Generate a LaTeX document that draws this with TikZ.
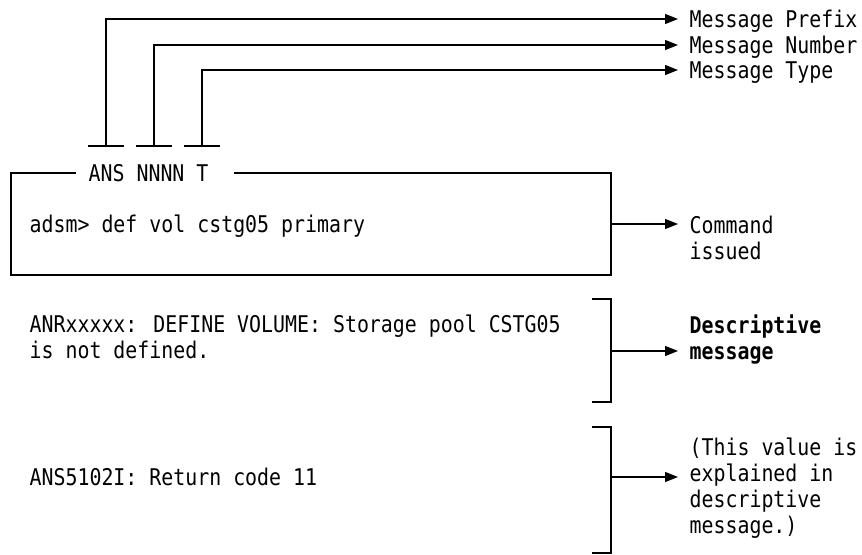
\documentclass[tikz,border=0pt]{standalone}
\usepackage{fontspec}
\setmainfont{DejaVu Sans Mono}[FakeStretch=0.865]
\usetikzlibrary{arrows.meta,positioning}

\tikzset{
	msg/.style={inner sep=0pt, align=left, font=\fontsize{11.5}{13}\selectfont},
	tag/.style={anchor=west, inner xsep=5.5pt, inner ysep=0pt, text height=8.5pt, text depth=0pt, font=\fontsize{11.5}{13}\selectfont},
	lbl/.style={anchor=north west, inner xsep=5.5pt, inner ysep=0pt, align=left, font=\fontsize{11.5}{13}\selectfont},
	arr/.style={-{Triangle[length=6.5pt,width=5pt]}},
}

\begin{document}
\begin{tikzpicture}[x=0.5pt, y=-0.5pt, line width=0.65pt]
	\useasboundingbox (0,0) rectangle (862,554);
	
	% labels on the right
	\node[tag] (prefix) at (678,19) {Message Prefix};
	\node[tag] (number) at (678,45) {Message Number};
	\node[tag] (type) at (678,70) {Message Type};
	\node[lbl] (cmd) at (678,215.5) {Command\\issued};
	\node[lbl, font=\fontsize{11.5}{13}\selectfont\bfseries] (desc) at (678,314.5) {Descriptive\\message};
	\node[lbl] (expl) at (678,437.5) {(This value is\\explained in\\descriptive\\message.)};
	
	% text on the left
	\node[tag, inner xsep=6pt] (title) at (76,173) {ANS NNNN T};
	\node[msg, anchor=base west] (adsm) at (29,232) {adsm> def vol cstg05 primary};
	\node[msg, anchor=north west] (anr) at (29,314.5) {ANRxxxxx: DEFINE VOLUME: Storage pool CSTG05\\is not defined.};
	\node[msg, anchor=base west] (ans) at (29,485) {ANS5102I: Return code 11};
	
	% the three pointers
	\coordinate (pA) at (106,146);
	\coordinate (pN) at (154,146);
	\coordinate (pT) at (202,146);
	\draw ([xshift=-9pt]pA) -- ([xshift=9pt]pA);
	\draw ([xshift=-9pt]pN) -- ([xshift=9pt]pN);
	\draw ([xshift=-9pt]pT) -- ([xshift=9pt]pT);
	\draw[arr] (pA) |- (prefix.west);
	\draw[arr] (pN) |- (number.west);
	\draw[arr] (pT) |- (type.west);
	
	% command box
	\coordinate (boxnw) at (11,173);
	\coordinate (boxse) at (611,275);
	\draw (title.west) -- (boxnw) -- (boxnw |- boxse) -- (boxse) -- (boxse |- boxnw) -- ([xshift=6.5pt]title.east);
	\coordinate (ctip) at ([yshift=-4.25pt]cmd.north west);
	\draw[arr] (boxse |- ctip) -- (ctip);
	
	% brackets
	\coordinate (brAtop) at (611,299);
	\coordinate (brAbot) at (611,402);
	\coordinate (brBtop) at (611,427);
	\coordinate (brBbot) at (611,553);
	\draw ([xshift=-9.5pt]brAtop) -- (brAtop) -- (brAbot) -- ([xshift=-9.5pt]brAbot);
	\draw ([xshift=-9.5pt]brBtop) -- (brBtop) -- (brBbot) -- ([xshift=-9.5pt]brBbot);
	\coordinate (dtip) at ([yshift=-18.25pt]desc.north west);
	\coordinate (etip) at ([yshift=-19.75pt]expl.north west);
	\draw[arr] (brAtop |- dtip) -- (dtip);
	\draw[arr] (brBtop |- etip) -- (etip);
	
\end{tikzpicture}
\end{document}
